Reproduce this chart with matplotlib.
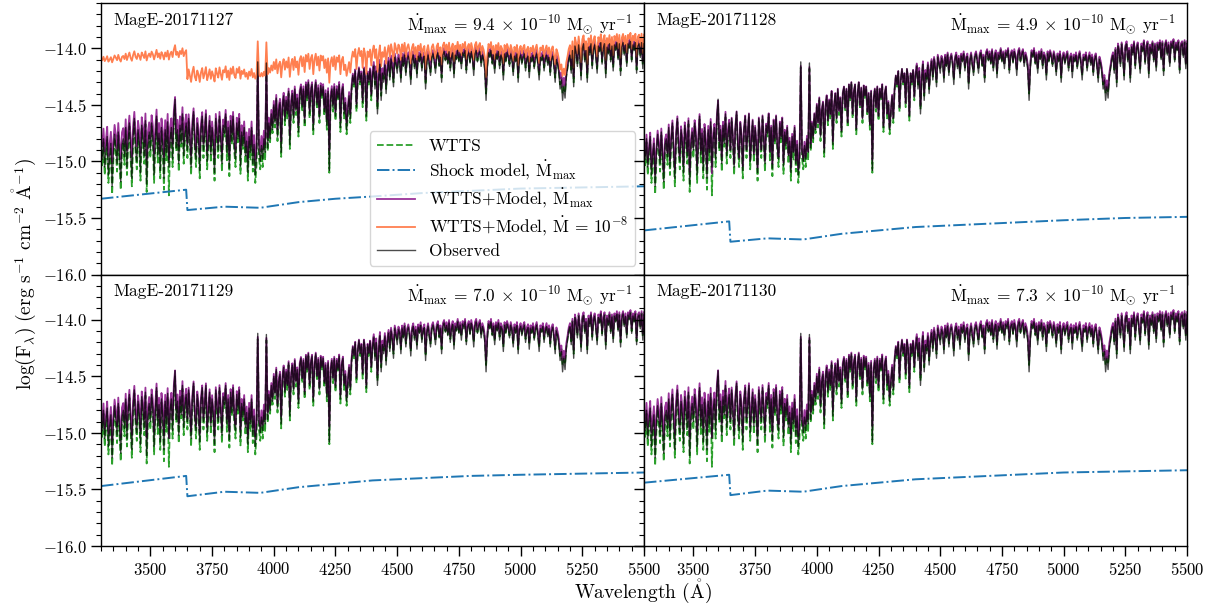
import numpy as np
import matplotlib
matplotlib.use("Agg")
import matplotlib.pyplot as plt
from matplotlib.ticker import MultipleLocator

plt.rcParams['font.family'] = 'serif'
plt.rcParams['font.serif'] = ['cmr10', 'DejaVu Serif']
plt.rcParams['mathtext.fontset'] = 'cm'
plt.rcParams['axes.formatter.use_mathtext'] = True
plt.rcParams['axes.unicode_minus'] = True

# ---------------- data (log F_lambda, erg s^-1 cm^-2 A^-1), 5 A grid ----------------
wave_start, wave_stop, wave_step = 3300, 5500, 5

observed_flux = [
    -14.86, -14.98, -14.80, -15.05, -14.90, -14.78, -15.12, -14.95, -14.84, -15.22,   # 3300
    -14.92, -14.76, -14.88, -15.02, -14.74, -14.95, -15.18, -14.85, -14.80, -14.96,   # 3350
    -14.70, -15.05, -14.82, -14.66, -14.90, -15.15, -14.78, -14.62, -14.88, -15.00,   # 3400
    -14.72, -14.84, -15.10, -14.68, -14.80, -14.95, -14.64, -15.20, -14.86, -14.74,   # 3450
    -14.90, -14.66, -14.78, -15.12, -14.82, -14.60, -14.94, -14.75, -15.08, -14.70,   # 3500
    -14.84, -15.15, -14.72, -14.92, -14.65, -15.05, -14.80, -14.70, -14.98, -14.62,   # 3550
    -14.45, -14.88, -14.72, -15.02, -14.68, -14.84, -14.58, -14.95, -14.76, -14.66,   # 3600
    -14.90, -14.62, -14.80, -15.05, -14.70, -14.56, -14.86, -14.98, -14.66, -14.78,   # 3650
    -15.08, -14.72, -14.60, -14.90, -14.76, -14.58, -15.00, -14.82, -14.64, -14.94,   # 3700
    -14.70, -14.85, -15.10, -14.62, -14.78, -14.90, -14.60, -14.80, -15.02, -14.68,   # 3750
    -14.75, -14.58, -14.92, -14.70, -15.06, -14.64, -14.82, -14.60, -14.88, -14.98,   # 3800
    -14.66, -14.80, -14.62, -15.04, -14.74, -14.86, -14.70, -14.95, -14.82, -15.10,   # 3850
    -14.78, -14.92, -14.70, -15.02, -14.85, -15.12, -14.96, -14.12, -14.90, -15.00,   # 3900
    -14.86, -14.98, -14.80, -14.92, -14.13, -14.88, -14.66, -14.80, -14.58, -14.72,   # 3950
    -14.50, -14.66, -14.44, -14.78, -14.55, -14.48, -14.92, -14.52, -14.42, -14.64,   # 4000
    -14.46, -14.58, -14.38, -14.85, -14.50, -14.40, -14.62, -14.36, -14.55, -14.44,   # 4050
    -14.74, -14.40, -14.34, -14.52, -14.36, -14.66, -14.32, -14.44, -14.30, -14.58,   # 4100
    -14.38, -14.32, -14.72, -14.40, -14.30, -14.50, -14.35, -14.62, -14.33, -14.42,   # 4150
    -14.34, -14.56, -14.40, -14.68, -14.38, -15.08, -14.45, -14.36, -14.52, -14.34,   # 4200
    -14.60, -14.36, -14.44, -14.32, -14.70, -14.40, -14.34, -14.58, -14.48, -14.72,   # 4250
    -14.55, -14.42, -14.62, -14.36, -14.24, -14.32, -14.20, -14.52, -14.28, -14.18,   # 4300
    -14.30, -14.22, -14.48, -14.18, -14.26, -14.60, -14.22, -14.30, -14.19, -14.42,   # 4350
    -14.24, -14.16, -14.36, -14.20, -14.58, -14.28, -14.14, -14.46, -14.22, -14.30,   # 4400
    -14.15, -14.40, -14.20, -14.12, -14.28, -14.10, -14.18, -14.34, -14.08, -14.14,   # 4450
    -14.22, -14.09, -14.12, -14.30, -14.08, -14.16, -14.06, -14.24, -14.11, -14.07,   # 4500
    -14.14, -14.32, -14.10, -14.06, -14.18, -14.09, -14.26, -14.07, -14.12, -14.05,   # 4550
    -14.20, -14.10, -14.07, -14.36, -14.12, -14.06, -14.15, -14.24, -14.08, -14.05,   # 4600
    -14.12, -14.22, -14.07, -14.04, -14.16, -14.08, -14.30, -14.06, -14.03, -14.11,   # 4650
    -14.05, -14.14, -14.03, -14.20, -14.08, -14.04, -14.26, -14.06, -14.10, -14.02,   # 4700
    -14.12, -14.05, -14.18, -14.04, -14.08, -14.02, -14.22, -14.07, -14.04, -14.13,   # 4750
    -14.03, -14.09, -14.24, -14.05, -14.02, -14.12, -14.06, -14.03, -14.16, -14.06,   # 4800
    -14.10, -14.20, -14.46, -14.18, -14.04, -14.08, -14.02, -14.14, -14.06, -14.22,   # 4850
    -14.05, -14.10, -14.03, -14.18, -14.06, -14.09, -14.28, -14.05, -14.12, -14.04,   # 4900
    -14.08, -14.16, -14.05, -14.10, -14.24, -14.07, -14.12, -14.05, -14.30, -14.09,   # 4950
    -14.06, -14.14, -14.08, -14.05, -14.20, -14.10, -14.07, -14.26, -14.08, -14.12,   # 5000
    -14.06, -14.18, -14.09, -14.05, -14.14, -14.28, -14.08, -14.11, -14.06, -14.20,   # 5050
    -14.10, -14.06, -14.15, -14.08, -14.24, -14.10, -14.07, -14.16, -14.30, -14.10,   # 5100
    -14.14, -14.22, -14.36, -14.28, -14.46, -14.34, -14.44, -14.26, -14.18, -14.10,   # 5150
    -14.06, -14.22, -14.02, -14.34, -13.98, -14.04, -14.16, -13.97, -14.08, -14.28,   # 5200
    -14.00, -13.96, -14.12, -14.02, -14.30, -13.99, -14.06, -13.96, -14.18, -14.01,   # 5250
    -13.97, -14.08, -14.22, -13.98, -14.03, -13.95, -14.14, -14.00, -13.96, -14.26,   # 5300
    -13.99, -14.05, -13.96, -14.12, -13.98, -14.20, -13.97, -14.02, -13.95, -14.10,   # 5350
    -13.96, -14.24, -13.99, -13.95, -14.06, -13.97, -14.16, -13.96, -14.00, -13.94,   # 5400
    -14.12, -13.97, -14.02, -13.95, -14.22, -13.98, -13.96, -14.08, -13.95, -14.18,   # 5450
    -13.96,                                                                           # 5500
]

wtts_flux = [
    -14.89, -15.05, -14.83, -15.12, -14.97, -14.81, -15.19, -15.02, -14.87, -15.29,   # 3300
    -14.99, -14.79, -14.91, -15.09, -14.77, -15.02, -15.25, -14.88, -14.83, -15.03,   # 3350
    -14.73, -15.12, -14.85, -14.69, -14.97, -15.22, -14.81, -14.65, -14.91, -15.07,   # 3400
    -14.75, -14.87, -15.17, -14.71, -14.83, -15.02, -14.67, -15.27, -14.89, -14.77,   # 3450
    -14.97, -14.69, -14.81, -15.19, -14.85, -14.63, -15.01, -14.78, -15.15, -14.73,   # 3500
    -14.87, -15.25, -14.75, -14.99, -14.68, -15.30, -14.83, -14.73, -15.05, -14.65,   # 3550
    -14.50, -14.91, -14.75, -15.09, -14.71, -14.87, -14.61, -15.02, -14.79, -14.69,   # 3600
    -14.97, -14.65, -14.83, -15.12, -14.73, -14.59, -14.89, -15.05, -14.69, -14.81,   # 3650
    -15.15, -14.75, -14.63, -14.97, -14.79, -14.61, -15.07, -14.85, -14.67, -15.01,   # 3700
    -14.73, -14.88, -15.17, -14.65, -14.81, -14.97, -14.63, -14.83, -15.09, -14.71,   # 3750
    -14.78, -14.61, -14.99, -14.73, -15.13, -14.67, -14.85, -14.63, -14.91, -15.05,   # 3800
    -14.69, -14.83, -14.65, -15.11, -14.77, -14.89, -14.73, -15.02, -14.85, -15.17,   # 3850
    -14.81, -14.99, -14.73, -15.09, -14.88, -15.19, -15.03, -14.17, -14.97, -15.07,   # 3900
    -14.89, -15.05, -14.83, -14.99, -14.18, -14.91, -14.69, -14.83, -14.61, -14.75,   # 3950
    -14.52, -14.70, -14.46, -14.82, -14.57, -14.50, -14.96, -14.54, -14.44, -14.68,   # 4000
    -14.48, -14.62, -14.40, -14.89, -14.52, -14.42, -14.66, -14.38, -14.59, -14.46,   # 4050
    -14.78, -14.42, -14.36, -14.56, -14.38, -14.70, -14.34, -14.46, -14.32, -14.62,   # 4100
    -14.40, -14.34, -14.76, -14.42, -14.32, -14.54, -14.37, -14.66, -14.35, -14.44,   # 4150
    -14.36, -14.60, -14.42, -14.72, -14.40, -15.10, -14.47, -14.38, -14.56, -14.36,   # 4200
    -14.64, -14.38, -14.46, -14.34, -14.74, -14.42, -14.36, -14.62, -14.50, -14.76,   # 4250
    -14.59, -14.44, -14.66, -14.38, -14.26, -14.34, -14.22, -14.56, -14.30, -14.20,   # 4300
    -14.32, -14.24, -14.52, -14.20, -14.28, -14.64, -14.24, -14.32, -14.21, -14.46,   # 4350
    -14.23, -14.15, -14.32, -14.19, -14.54, -14.26, -14.13, -14.42, -14.21, -14.27,   # 4400
    -14.14, -14.36, -14.19, -14.11, -14.25, -14.09, -14.17, -14.30, -14.07, -14.13,   # 4450
    -14.19, -14.08, -14.11, -14.26, -14.07, -14.15, -14.05, -14.21, -14.10, -14.06,   # 4500
    -14.13, -14.28, -14.09, -14.05, -14.16, -14.08, -14.22, -14.06, -14.11, -14.04,   # 4550
    -14.17, -14.09, -14.06, -14.32, -14.11, -14.05, -14.14, -14.21, -14.07, -14.04,   # 4600
    -14.11, -14.19, -14.06, -14.03, -14.15, -14.07, -14.26, -14.05, -14.02, -14.10,   # 4650
    -14.04, -14.13, -14.02, -14.17, -14.07, -14.03, -14.22, -14.05, -14.09, -14.01,   # 4700
    -14.11, -14.04, -14.15, -14.03, -14.07, -14.01, -14.19, -14.06, -14.03, -14.12,   # 4750
    -14.02, -14.08, -14.20, -14.04, -14.01, -14.11, -14.05, -14.02, -14.14, -14.05,   # 4800
    -14.09, -14.17, -14.40, -14.15, -14.03, -14.07, -14.01, -14.13, -14.05, -14.19,   # 4850
    -14.04, -14.09, -14.02, -14.15, -14.05, -14.08, -14.24, -14.04, -14.11, -14.03,   # 4900
    -14.07, -14.14, -14.04, -14.09, -14.21, -14.06, -14.11, -14.04, -14.26, -14.08,   # 4950
    -14.05, -14.13, -14.07, -14.04, -14.17, -14.09, -14.06, -14.22, -14.07, -14.11,   # 5000
    -14.05, -14.16, -14.08, -14.04, -14.13, -14.24, -14.07, -14.10, -14.05, -14.17,   # 5050
    -14.09, -14.05, -14.14, -14.07, -14.21, -14.09, -14.06, -14.15, -14.26, -14.09,   # 5100
    -14.13, -14.20, -14.32, -14.26, -14.40, -14.31, -14.39, -14.24, -14.17, -14.09,   # 5150
    -14.05, -14.19, -14.01, -14.30, -13.97, -14.03, -14.14, -13.96, -14.07, -14.24,   # 5200
    -13.99, -13.95, -14.10, -14.01, -14.26, -13.98, -14.05, -13.95, -14.15, -14.00,   # 5250
    -13.96, -14.07, -14.18, -13.97, -14.02, -13.94, -14.12, -13.99, -13.95, -14.22,   # 5300
    -13.98, -14.04, -13.95, -14.10, -13.97, -14.17, -13.96, -14.01, -13.94, -14.09,   # 5350
    -13.95, -14.20, -13.98, -13.94, -14.05, -13.96, -14.14, -13.95, -13.99, -13.93,   # 5400
    -14.10, -13.96, -14.01, -13.94, -14.19, -13.97, -13.95, -14.07, -13.94, -14.15,   # 5450
    -13.95,                                                                           # 5500
]

# shock models (log F) at node wavelengths
shock_wave = [3300, 3645, 3650, 3800, 3945, 4100, 4250, 4400, 4600, 4800, 5000, 5250, 5500]
shock_20171127 = [-15.33, -15.25, -15.43, -15.40, -15.41, -15.36, -15.33, -15.31, -15.28, -15.26, -15.24, -15.23, -15.22]
shock_20171128 = [-15.61, -15.53, -15.71, -15.68, -15.69, -15.64, -15.61, -15.58, -15.56, -15.54, -15.52, -15.50, -15.49]
shock_20171129 = [-15.47, -15.38, -15.56, -15.52, -15.53, -15.48, -15.45, -15.42, -15.40, -15.38, -15.37, -15.36, -15.35]
shock_20171130 = [-15.44, -15.37, -15.55, -15.51, -15.52, -15.47, -15.44, -15.41, -15.39, -15.37, -15.35, -15.34, -15.33]
shock_1e8 = [-14.16, -14.12, -14.37, -14.35, -14.32, -14.38, -14.38, -14.45, -14.75, -14.80, -14.80, -14.75, -14.70]

nights = ['MagE-20171127', 'MagE-20171128', 'MagE-20171129', 'MagE-20171130']
mdot_max = ['9.4', '4.9', '7.0', '7.3']
shocks = [shock_20171127, shock_20171128, shock_20171129, shock_20171130]

# ---------------- plotting ----------------
wave = np.arange(wave_start, wave_stop + 1, wave_step)
wtts = np.array(wtts_flux)
obs = np.array(observed_flux)
sw = np.array(shock_wave)

fig, axes = plt.subplots(2, 2, figsize=(12.17, 6.09), dpi=100, sharex=True, sharey=True)
fig.subplots_adjust(left=0.083, right=0.9754, top=0.995, bottom=0.1034, hspace=0, wspace=0)

for i, ax in enumerate(axes.flat):
    sh = np.array(shocks[i])
    sh_on_grid = np.interp(wave, sw, sh)
    model = np.log10(10**wtts + 10**sh_on_grid)
    ax.plot(wave, wtts, ls='--', color='#2ca02c', lw=1.3, label='WTTS')
    ax.plot(sw, sh, ls='-.', color='#1f77b4', lw=1.4,
            label=r'Shock model, $\dot{\mathrm{M}}_{\mathrm{max}}$')
    ax.plot(wave, model, color='purple', lw=1.3, alpha=0.8,
            label=r'WTTS+Model, $\dot{\mathrm{M}}_{\mathrm{max}}$')
    if i == 0:
        s8 = np.interp(wave, sw, np.array(shock_1e8))
        model8 = np.log10(10**wtts + 10**s8)
        ax.plot(wave, model8, color='coral', lw=1.3,
                label=r'WTTS+Model, $\dot{\mathrm{M}}$ = $10^{-8}$')
    ax.plot(wave, obs, color='k', lw=1.0, alpha=0.7, label='Observed')

    ax.text(0.022, 0.965, nights[i], transform=ax.transAxes, ha='left', va='top', fontsize=12.5)
    ax.text(0.978, 0.965,
            r'$\dot{\mathrm{M}}_{\mathrm{max}}$ = %s $\times$ 10$^{-10}$ M$_{\odot}$ yr$^{-1}$' % mdot_max[i],
            transform=ax.transAxes, ha='right', va='top', fontsize=12.5)

    ax.set_xlim(3300, 5500)
    ax.set_ylim(-16.0, -13.6)
    ax.xaxis.set_major_locator(MultipleLocator(250))
    ax.xaxis.set_minor_locator(MultipleLocator(50))
    ax.yaxis.set_major_locator(MultipleLocator(0.5))
    ax.yaxis.set_minor_locator(MultipleLocator(0.1))
    ax.tick_params(which='major', direction='out', length=7, width=1.0, labelsize=12)
    ax.tick_params(which='minor', direction='out', length=3.5, width=0.8)
    for sp in ax.spines.values():
        sp.set_linewidth(1.0)

axes[0, 0].legend(loc='lower right', fontsize=12.5, labelspacing=0.3, handlelength=2.2)

fig.text(0.528, 0.006, r'Wavelength ($\mathring{\mathrm{A}}$)', ha='center', va='bottom', fontsize=14)
fig.text(0.008, 0.55, r'$\mathrm{log(F_{\lambda})\ (erg\ s^{-1}\ cm^{-2}\ \mathring{A}^{-1})}$',
         rotation=90, ha='left', va='center', fontsize=14)

fig.savefig('out.png', dpi=100)
